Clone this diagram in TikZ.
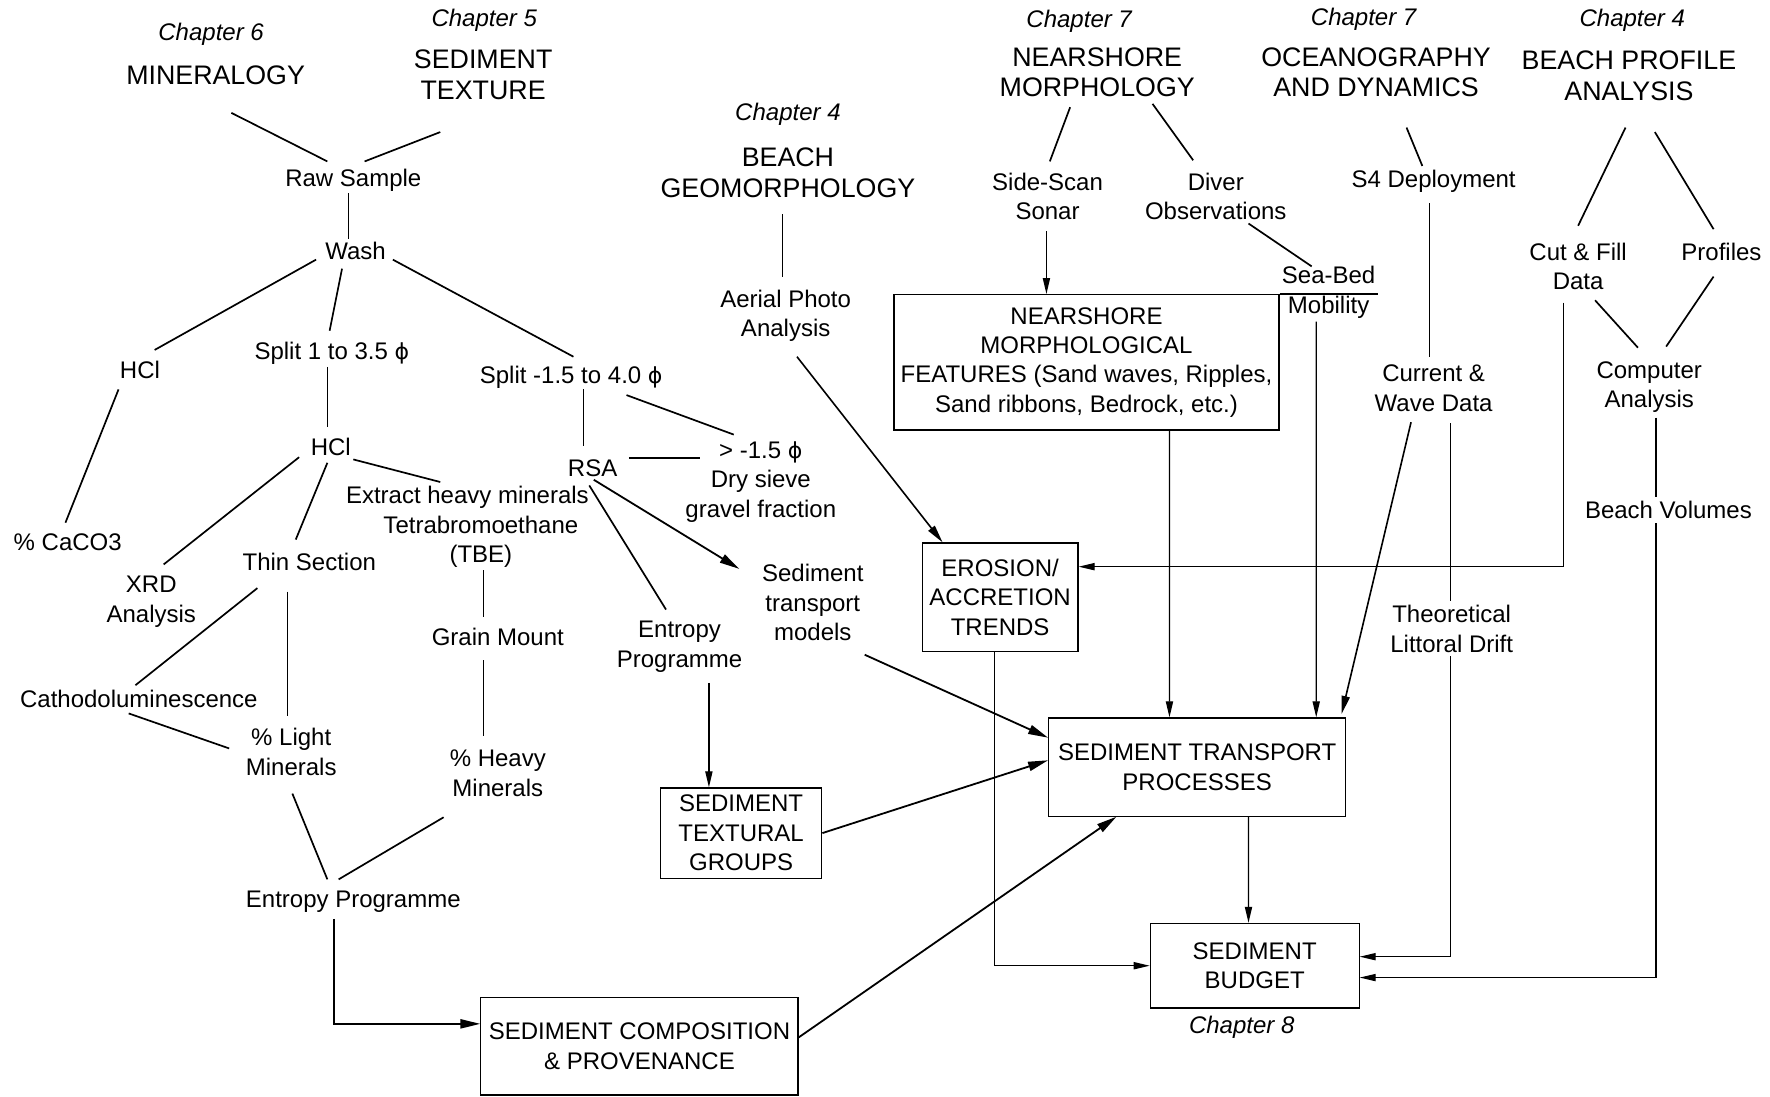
\documentclass[tikz,border=0pt]{standalone}
\usepackage{fontspec}
\setmainfont{Liberation Sans}
\newfontfamily\phifont[Scale=0.92]{DejaVu Sans}
\newcommand{\myphi}{{\phifont ϕ}}
\usetikzlibrary{arrows.meta,calc}
\newdimen\pxu \pxu=0.5644pt
\begin{document}
\begin{tikzpicture}[x=0.5644pt,y=-0.5644pt,
  lbl/.style={font=\fontsize{12}{14.7}\selectfont, align=center, inner sep=1pt},
  ttl/.style={font=\fontsize{13.4}{15.3}\selectfont, align=center, inner sep=1pt},
  chap/.style={font=\fontsize{12}{14}\selectfont\itshape, inner sep=1pt},
  boxn/.style={draw, line width=0.6pt, align=center, font=\fontsize{12}{14.7}\selectfont, inner sep=0pt},
  ln/.style={line width=0.85pt},
  tln/.style={line width=0.6pt},
  arr/.style={line width=0.6pt, -{Triangle[length=8pt,width=3.6pt]}},
  arrm/.style={line width=0.8pt, -{Triangle[length=9pt,width=4pt]}},
  arrb/.style={line width=0.9pt, -{Triangle[length=10pt,width=4.6pt]}},
  wlbl/.style={lbl, fill=white, inner sep=2pt}
]
\useasboundingbox (0,0) rectangle (1568,971);

% ---- left tree
\node[chap] (ch6) at (187,30) {Chapter 6};
\node[ttl] (min) at (191,67) {MINERALOGY};
\node[chap] (ch5) at (429,18) {Chapter 5};
\node[ttl] (tex) at (428,66) {SEDIMENT\\TEXTURE};
\node[lbl] (raw) at (313,160) {Raw Sample};
\node[lbl] (wash) at (315,222) {Wash};
\node[lbl] (hcla) at (124,328) {HCl};
\node[lbl] (spa) at (294,313) {Split 1 to 3.5 \myphi};
\node[lbl] (spb) at (506,334) {Split -1.5 to 4.0 \myphi};
\node[lbl] (caco) at (60,480) {\% CaCO3};
\node[lbl] (hclb) at (293,396) {HCl};
\node[lbl] (xrd) at (134,533) {XRD\\Analysis};
\node[lbl] (thin) at (274,498) {Thin Section};
\node[lbl] (ext) at (426,467) {Extract heavy minerals\hbox to 13.5pt{}\\Tetrabromoethane\\(TBE)};
\node[lbl] (grain) at (441,564) {Grain Mount};
\node[lbl] (heavy) at (441,685) {\% Heavy\\Minerals};
\node[lbl] (cath) at (123,619) {Cathodoluminescence};
\node[lbl] (light) at (258,666) {\% Light\\Minerals};
\node[lbl] (enta) at (313,799) {Entropy Programme};
\node[boxn, minimum width=281\pxu, minimum height=86\pxu] (comp) at (566.5,927) {SEDIMENT COMPOSITION\\\& PROVENANCE};
\node[lbl] (rsa) at (525,415) {RSA};
\node[lbl] (dry) at (674,427) {> -1.5 \myphi\\Dry sieve\\gravel fraction};
\node[lbl] (entb) at (602,573) {Entropy\\Programme};
\node[lbl] (stm) at (720,534) {Sediment\\transport\\models};
\node[boxn, minimum width=143\pxu, minimum height=80\pxu] (stg) at (656.5,738) {SEDIMENT\\TEXTURAL\\GROUPS};

% ---- beach geomorphology
\node[chap] (ch4a) at (698,101) {Chapter 4};
\node[ttl] (bgeo) at (698,153) {BEACH\\GEOMORPHOLOGY};
\node[lbl] (aer) at (696,280) {Aerial Photo\\Analysis};
\node[boxn, minimum width=138\pxu, minimum height=96\pxu] (ero) at (886,529) {EROSION/\\ACCRETION\\TRENDS};

% ---- nearshore
\node[chap] (ch7a) at (956,19) {Chapter 7};
\node[ttl] (nmor) at (972,64) {NEARSHORE\\MORPHOLOGY};
\node[lbl] (ss) at (928,174) {Side-Scan\\Sonar};
\node[lbl] (div) at (1077,174) {Diver\\Observations};
\node[lbl] (sbm) at (1177,259) {Sea-Bed\\Mobility};
\node[boxn, minimum width=341\pxu, minimum height=120\pxu] (nmf) at (962.5,321) {NEARSHORE\\MORPHOLOGICAL\\FEATURES (Sand waves, Ripples,\\Sand ribbons, Bedrock, etc.)};

% ---- oceanography
\node[chap] (ch7b) at (1208,17) {Chapter 7};
\node[ttl] (ocean) at (1219,64) {OCEANOGRAPHY\\AND DYNAMICS};
\node[lbl] (s4) at (1270,161) {S4 Deployment};
\node[lbl] (cur) at (1270,344) {Current \&\\Wave Data};

% ---- beach profile
\node[chap] (ch4b) at (1446,18) {Chapter 4};
\node[ttl] (bpa) at (1443,67) {BEACH PROFILE\\ANALYSIS};
\node[lbl] (cut) at (1398,236) {Cut \& Fill\\Data};
\node[lbl] (prof) at (1525,223) {Profiles};
\node[lbl] (cpa) at (1461,343) {Computer\\Analysis};

% ---- result boxes
\node[boxn, minimum width=263\pxu, minimum height=87\pxu] (stp) at (1060.5,679.5) {SEDIMENT TRANSPORT\\PROCESSES};
\node[boxn, minimum width=185\pxu, minimum height=75\pxu] (sb) at (1111.5,855.5) {SEDIMENT\\BUDGET};
\node[chap] (ch8) at (1100,910) {Chapter 8};

% ---- connectors, left tree
\draw[ln] ($(min)+(14,33)$) -- ($(raw)+(-23,-17)$);
\draw[ln] ($(tex)+(-38,51)$) -- ($(raw)+(10,-17)$);
\draw[tln] ($(raw)+(-4,11)$) -- ($(wash)+(-6,-10)$);
\draw[ln] ($(wash)+(-35,8)$) -- ($(hcla)+(13,-18)$);
\draw[ln] ($(wash)+(-12,16)$) -- ($(spa)+(-2,-20)$);
\draw[ln] ($(wash)+(33,8)$) -- ($(spb)+(2,-18)$);
\draw[tln] ($(spa)+(-4,12)$) -- ($(hclb)+(-3,-18)$);
\draw[ln] ($(hcla)+(-19,17)$) -- ($(caco)+(-2,-17)$);
\draw[ln] ($(hclb)+(-28,9)$) -- ($(xrd)+(11,-33)$);
\draw[ln] ($(hclb)+(-3,14)$) -- ($(thin)+(-12,-20)$);
\draw[ln] ($(hclb)+(20,11)$) -- ($(ext)+(-36,-40)$);
\draw[tln] ($(ext)+(2,38)$) -- ($(grain)+(-13,-17)$);
\draw[tln] ($(grain)+(-13,21)$) -- ($(heavy)+(-13,-33)$);
\draw[ln] ($(thin)+(-46,23)$) -- ($(cath)+(-3,-12)$);
\draw[tln] ($(thin)+(-19,26)$) -- ($(light)+(-3,-32)$);
\draw[ln] ($(cath)+(-9,13)$) -- ($(light)+(-55,-3)$);
\draw[ln] ($(light)+(1,37)$) -- ($(enta)+(-23,-20)$);
\draw[ln] ($(heavy)+(-48,39)$) -- ($(enta)+(-13,-20)$);
\draw[arrb] ($(enta)+(-17,15)$) |- ($(comp.west)+(0,-20)$);
\draw[arrb] ($(comp.east)+(0,-8)$) -- ($(stp.south)+(-71.5,0)$);
\draw[ln] ($(spb)+(11,11)$) -- ($(rsa)+(-8,-20)$);
\draw[ln] ($(spb)+(49,16)$) -- ($(dry)+(-24,-42)$);
\draw[ln] ($(rsa)+(32,-9)$) -- ($(dry)+(-54,-21)$);
\draw[ln] ($(rsa)+(-3,15)$) -- ($(entb)+(-12,-33)$);
\draw[arrb] ($(rsa)+(1,10)$) -- ($(stm)+(-65,-30)$);
\draw[arr] ($(entb)+(26,32)$) -- ($(stg.north)+(-28.5,0)$);
\draw[arrb] (stg.east) -- ($(stp.west)+(0,-6)$);
\draw[arrb] ($(stm)+(46,46)$) -- ($(stp.west)+(0,-26)$);

% ---- connectors, right part
\draw[tln] ($(bgeo)+(-5,37)$) -- ($(aer)+(-3,-35)$);
\draw[arrm] ($(aer)+(10,36)$) -- ($(ero.north)+(-51,0)$);
\draw[arr] ($(ero.south)+(-5,0)$) |- (sb.west);
\draw[ln] ($(nmor)+(-24,31)$) -- ($(ss)+(2,-31)$);
\draw[ln] ($(nmor)+(49,28)$) -- ($(div)+(-20,-32)$);
\draw[arr] ($(ss)+(-1,31)$) -- ($(nmf.north)+(-35.5,0)$);
\draw[ln] ($(div)+(29,24)$) -- ($(sbm)+(-15,-23)$);
\draw[tln] (nmf.north east) -- (nmf.north east -| sbm.east);
\draw[arr] ($(nmf.south)+(73.5,0)$) -- ($(stp.north)+(-24.5,0)$);
\draw[arr] ($(sbm)+(-11,26)$) -- ($(stp.north)+(105.5,0)$);
\draw[ln] ($(ocean)+(27,49)$) -- ($(s4)+(-10,-14)$);
\draw[tln] ($(s4)+(-4,19)$) -- ($(cur)+(-4,-28)$);
\draw[arrm] ($(cur)+(-20,30)$) -- ($(stp.north east)+(-4,-3)$);
\draw[arr] ($(cur)+(15,31)$) |- ($(sb.east)+(0,-8)$);
\draw[ln] ($(bpa)+(-3,46)$) -- ($(cut)+(0,-36)$);
\draw[ln] ($(bpa)+(23,50)$) -- ($(prof)+(-7,-20)$);
\draw[ln] ($(cut)+(15,30)$) -- ($(cpa)+(-10,-35)$);
\draw[ln] ($(prof)+(-7,22)$) -- ($(cpa)+(15,-36)$);
\draw[arr] ($(cpa)+(6,27)$) |- ($(sb.east)+(0,10.5)$);
\draw[arr] ($(cut)+(-13,32)$) |- ($(ero.east)+(0,-27)$);
\draw[arr] ($(stp.south)+(45.5,0)$) -- ($(sb.north)+(-5.5,0)$);

% ---- labels sitting on lines
\node[wlbl] (tld) at (1286,557) {Theoretical\\Littoral Drift};
\node[wlbl] (bvol) at (1478,452) {Beach Volumes};
\end{tikzpicture}
\end{document}
